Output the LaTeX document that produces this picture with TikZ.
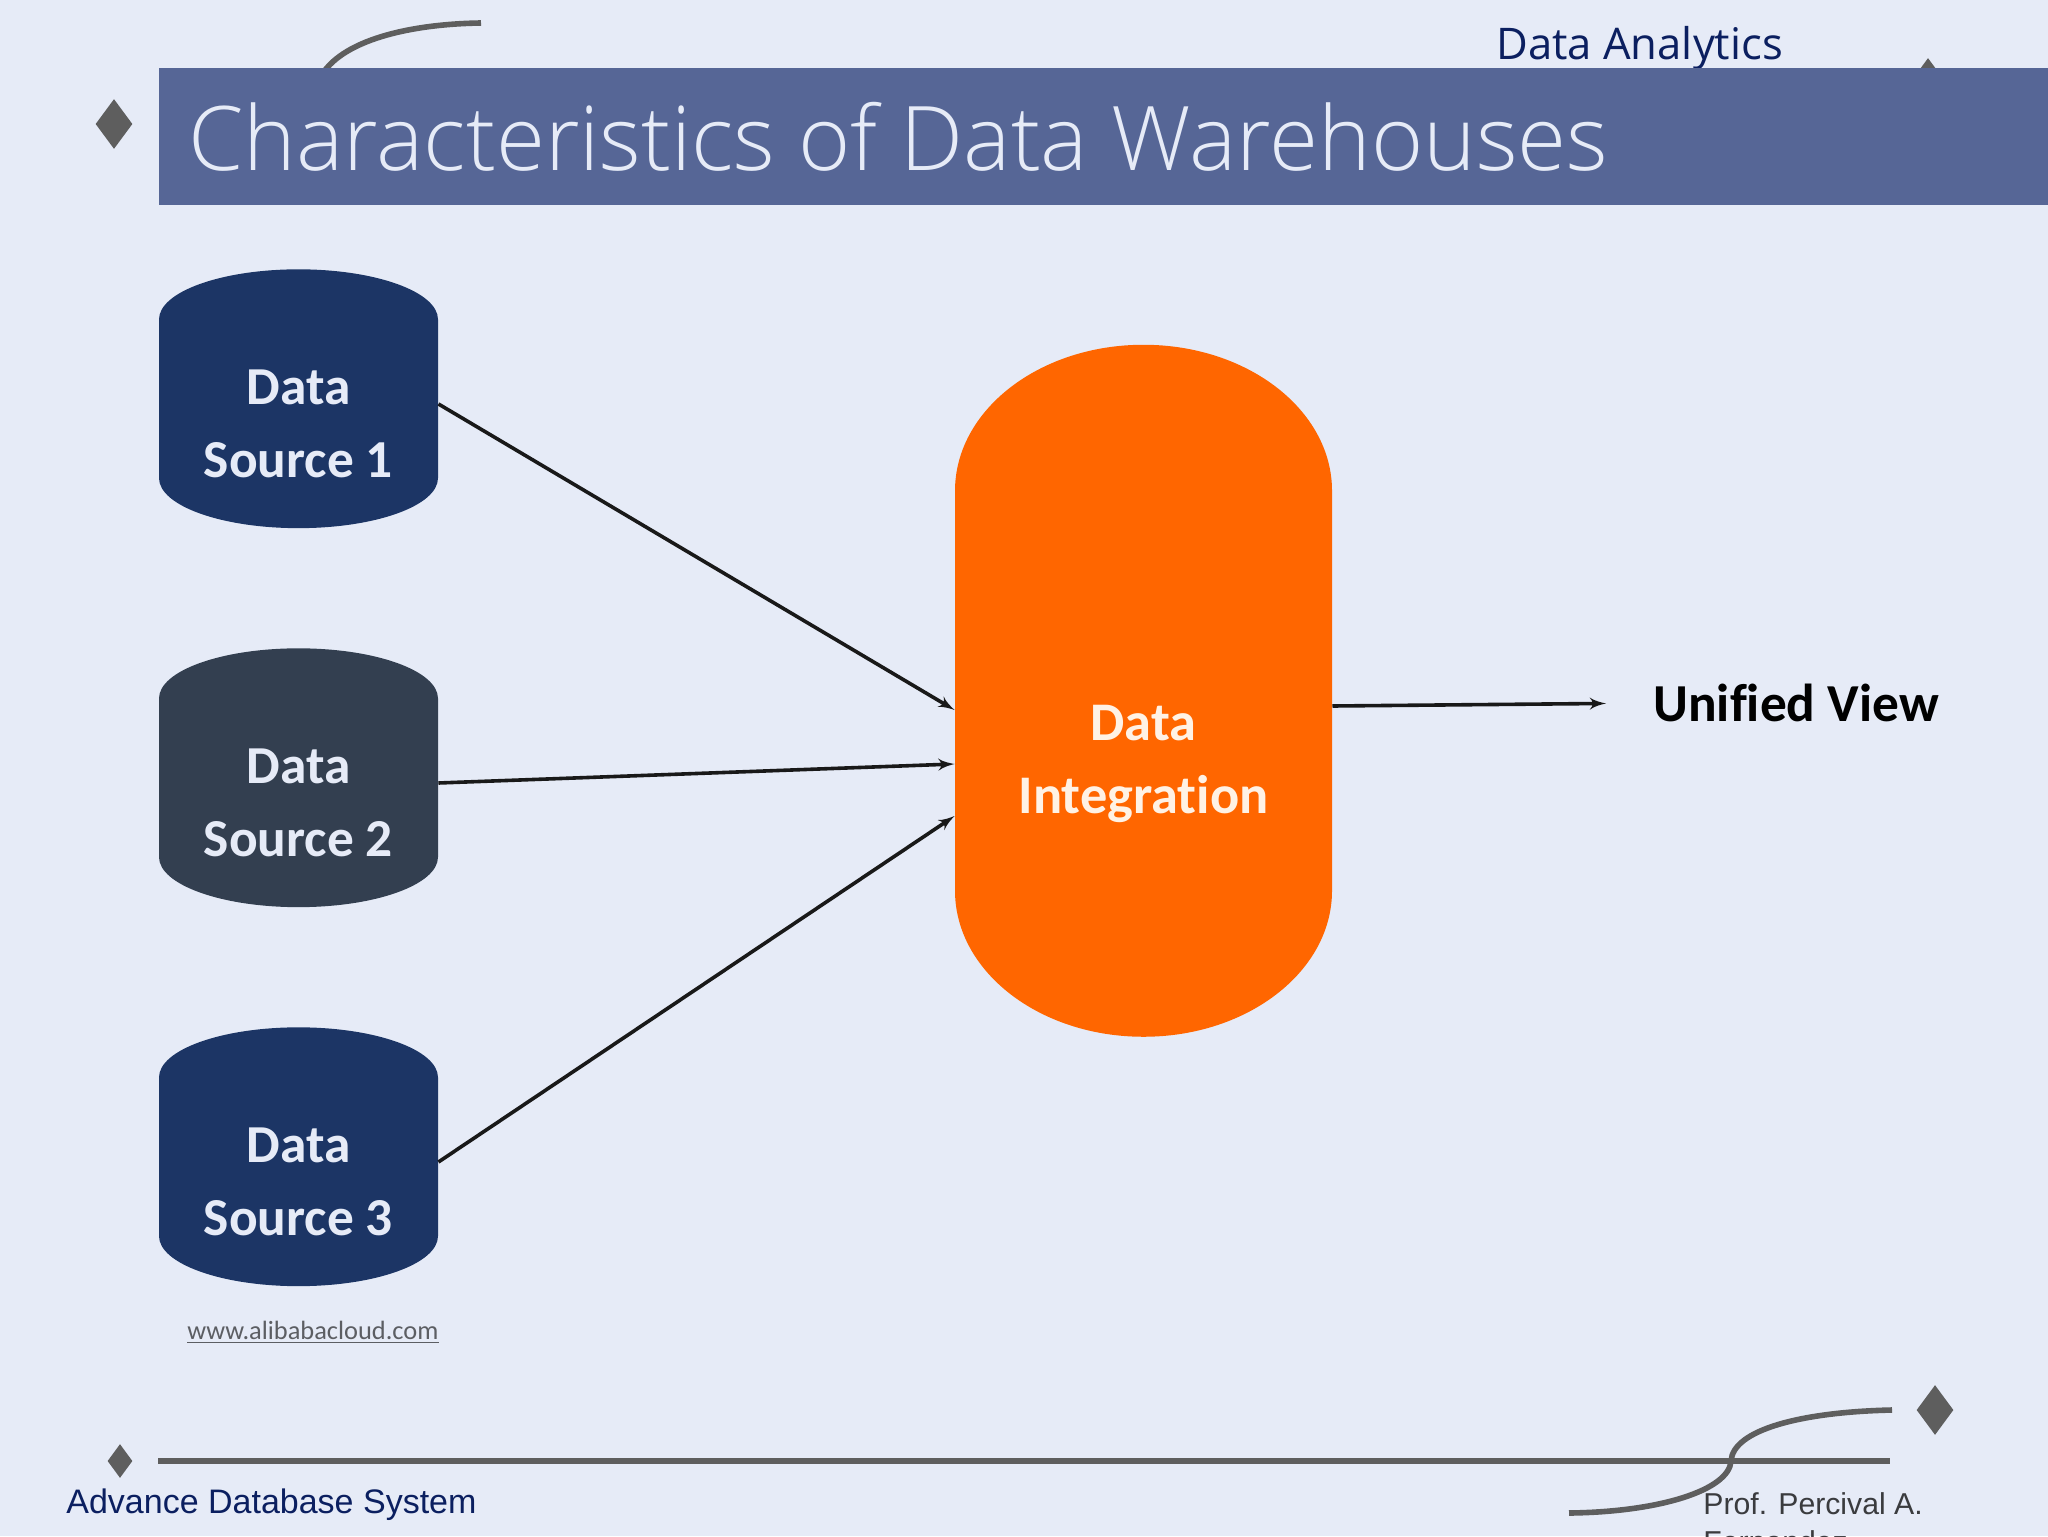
\documentclass[tikz,border=0pt]{standalone}
\usepackage{fontspec}
\usetikzlibrary{arrows, positioning, shapes.geometric}
\setmainfont{Carlito}[Ligatures=NoCommon]
\newfontfamily\titlefont{Open Sans Light}
\newfontfamily\headfont{Open Sans}
\newfontfamily\footfont{Liberation Sans}
\definecolor{pagebg}{HTML}{E6EBF7}
\definecolor{bannerblue}{HTML}{566696}
\definecolor{decogray}{HTML}{5E5E5E}
\definecolor{navytext}{HTML}{0B1F60}
\definecolor{srcblue}{HTML}{1C3565}
\definecolor{srcslate}{HTML}{333F50}
\definecolor{integorange}{HTML}{FF6600}
\tikzset{
	x=0.5pt, y=-0.5pt,
	node distance=189.5pt,
	>=latex',
	flow/.style={->, line width=1.8pt, color=black!90},
	deco/.style={line width=2.8pt, color=decogray},
	mark diamond/.style={diamond, fill=decogray, inner sep=0pt, aspect=0.74},
	source/.style={cylinder, shape border rotate=90, aspect=0.53, fill=srcblue, inner sep=0pt,
		minimum width=139.5pt, minimum height=128pt, align=center, text=pagebg,
		font=\fontsize{26.7}{36.5}\selectfont\bfseries},
	integ/.style={cylinder, shape border rotate=90, aspect=1.17, fill=integorange, inner sep=0pt,
		minimum width=188.5pt, minimum height=346pt, align=center, text=orange!10,
		font=\fontsize{27.2}{36.5}\selectfont\bfseries}}
\begin{document}
\begin{tikzpicture}
	\useasboundingbox (0,0) rectangle (2048,1536);
	\fill[pagebg] (0,0) rectangle (2048,1536);
	
	% header, partly hidden by the banner
	\node[anchor=base west, inner sep=0pt, text=navytext, font=\headfont\fontsize{21.8}{27}\selectfont] (course) at (1496,60) {Data Analytics};
	\draw[deco] (481,23) .. controls (410,24) and (340,40) .. (320,78);
	\node[mark diamond, minimum width=18.5pt, minimum height=25pt] (tipright) at (1928,83) {};
	\node[mark diamond, minimum width=18.5pt, minimum height=25pt] (tipleft) at (114,124) {};
	\fill[bannerblue] (159,68) rectangle (2048,205);
	\node[anchor=base west, inner sep=0pt, text=pagebg, font=\titlefont\fontsize{44.6}{54}\selectfont] (title) at (188,170) {Characteristics of Data Warehouses};
	
	% sources
	\node[source] (src1) at (298.5,424) {Data\\Source 1};
	\node[source, fill=srcslate, below of=src1] (src2) {Data\\Source 2};
	\node[source, below of=src2] (src3) {Data\\Source 3};
	
	\node[integ] (merge) at (1143.5,764) {Data\\Integration};
	\node[anchor=west, inner sep=0pt, font=\fontsize{26.7}{30}\selectfont\bfseries] (view) at (1653,703) {Unified View};
	
	\coordinate (in1) at ([yshift=27pt]merge.west);
	\coordinate (in3) at ([yshift=-26pt]merge.west);
	\draw[flow] ([yshift=10pt]src1.east) -- (in1);
	\draw[flow] ([yshift=10pt]src2.east) -- (merge.west);
	\draw[flow] ([yshift=10pt]src3.east) -- (in3);
	\draw[flow, shorten >=23.5pt] ([yshift=29pt]merge.east) -- (view.west);
	
	\node[anchor=base west, inner sep=0pt, text=black!60!pagebg, font=\fontsize{13.2}{16}\selectfont] (credit) at (187,1339) {\underline{www.alibabacloud.com}};
	
	% footer
	\draw[deco] (158,1461) -- (1890,1461);
	\draw[deco] (1892,1410) .. controls (1800,1412) and (1733,1430) .. (1731,1461) .. controls (1729,1490) and (1660,1512) .. (1569,1513);
	\node[mark diamond, minimum width=12.5pt, minimum height=17pt] (footleft) at (120,1461) {};
	\node[mark diamond, minimum width=18.5pt, minimum height=25pt] (footright) at (1935,1410) {};
	\node[anchor=base west, inner sep=0pt, text=navytext, font=\footfont\fontsize{17}{19}\selectfont] (course2) at (66,1513) {Advance Database System};
	\node[anchor=base west, inner sep=0pt, text=black!75!pagebg, font=\footfont\fontsize{15.1}{19}\selectfont] (prof) at (1703,1514) {Prof. Percival A.};
	\node[anchor=base west, inner sep=0pt, text=black!75!pagebg, font=\footfont\fontsize{15.1}{19}\selectfont] (prof2) at (1703,1552) {Fernandez};
\end{tikzpicture}
\end{document}
